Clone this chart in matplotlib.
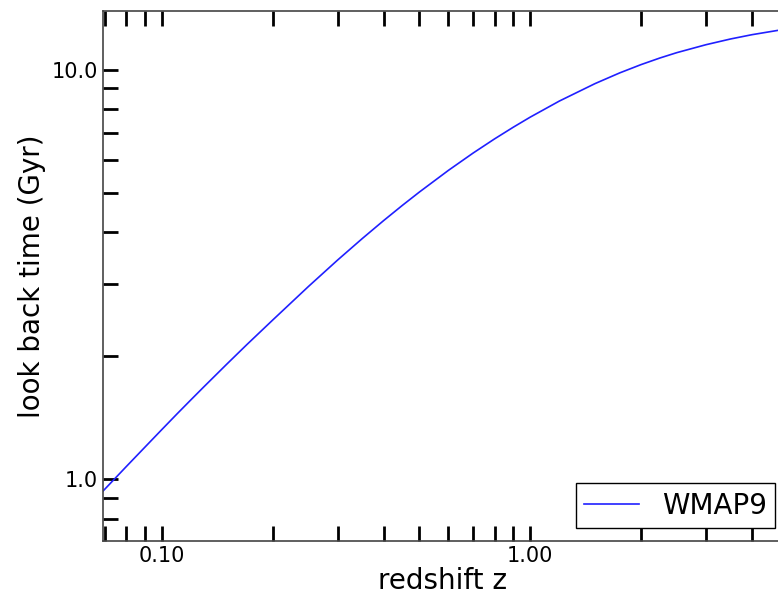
import matplotlib
matplotlib.use("Agg")
import matplotlib.pyplot as plt
from matplotlib.ticker import FormatStrFormatter, NullFormatter, LogLocator

# redshift and look back time (Gyr)
redshift = [0.069, 0.08, 0.09, 0.10, 0.11, 0.12, 0.13, 0.15, 0.17, 0.20, 0.25,
            0.30, 0.35, 0.40, 0.45, 0.50, 0.60, 0.70, 0.80, 0.90, 1.00, 1.20,
            1.50, 1.75, 2.00, 2.25, 2.50, 3.00, 3.50, 4.00, 4.80]
lookback = [0.931, 1.071, 1.196, 1.320, 1.442, 1.561, 1.678, 1.906, 2.127, 2.444, 2.951,
            3.424, 3.864, 4.275, 4.659, 5.018, 5.672, 6.251, 6.767, 7.230, 7.649, 8.374,
            9.238, 9.811, 10.280, 10.669, 10.994, 11.496, 11.874, 12.163, 12.500]
series_name = "WMAP9"

fig = plt.figure(figsize=(7.78, 5.96), dpi=100)
ax = fig.add_axes([0.1324, 0.0923, 0.872, 0.8893])

ax.plot(redshift, lookback, color="#2020ff", lw=1.2, label=series_name)
ax.set_xscale("log")
ax.set_yscale("log")
ax.set_xlim(0.0692, 4.81)
ax.set_ylim(0.705, 13.9)

ax.xaxis.set_major_formatter(FormatStrFormatter("%.2f"))
ax.yaxis.set_major_formatter(FormatStrFormatter("%.1f"))
ax.xaxis.set_minor_formatter(NullFormatter())
ax.yaxis.set_minor_formatter(NullFormatter())
ax.xaxis.set_minor_locator(LogLocator(subs=range(2, 10)))
ax.yaxis.set_minor_locator(LogLocator(subs=range(2, 10)))

ax.tick_params(which="both", direction="in", top=True, right=False,
               length=11, width=2, labelsize=15, color="black")
for s in ax.spines.values():
    s.set_color("#444444")
    s.set_linewidth(1.2)

ax.set_xlabel("redshift z", fontsize=20, labelpad=0.5)
ax.set_ylabel("look back time (Gyr)", fontsize=20, labelpad=4)

leg = ax.legend(loc="lower right", bbox_to_anchor=(0.9906, 0.0245),
                borderaxespad=0, fontsize=20, fancybox=False, framealpha=1,
                edgecolor="black", handlelength=2.0, handletextpad=0.8,
                borderpad=0.3)
leg.get_frame().set_linewidth(1.0)

fig.savefig("out.png", dpi=100)
